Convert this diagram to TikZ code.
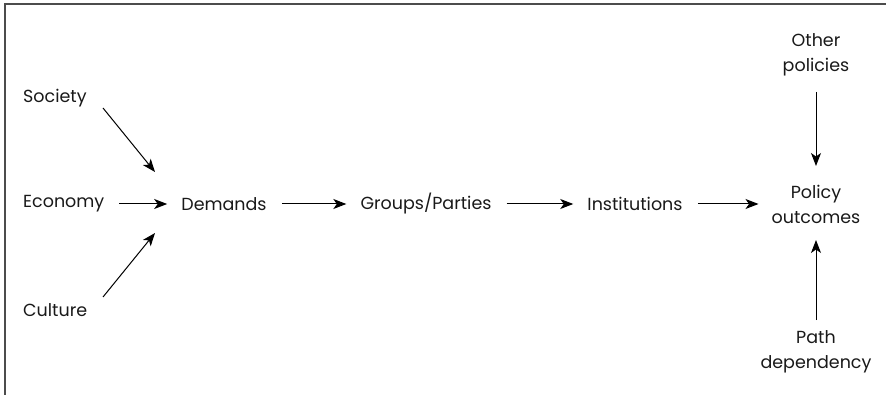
\documentclass[tikz,border=0pt]{standalone}
\usepackage{fontspec}
\setmainfont{Poppins}
\usetikzlibrary{arrows.meta,calc}
\begin{document}
\begin{tikzpicture}[x=1pt,y=-1pt,
  lbl/.style={inner sep=0pt,align=center,font=\fontsize{17.5}{25}\selectfont,text=black!90},
  conn/.style={line width=1pt,-{Stealth[length=13pt,width=10pt,inset=3.5pt]}},
  gap/.style={shorten <=15pt,shorten >=14pt}]
\useasboundingbox (0,0) rectangle (886,395);
% open frame: top and left edges only
\draw[line width=1.8pt,black!70] (886,4) -- (5,4) -- (5,395);
% sources
\node[lbl,anchor=west] (soc) at (23,98) {Society};
\node[lbl,anchor=west] (eco) at (23,204) {Economy};
\node[lbl,anchor=west] (cul) at (23,310) {Culture};
% main chain
\node[lbl] (dem) at (224,204) {Demands};
\node[lbl] (grp) at (426,204) {Groups/Parties};
\node[lbl] (ins) at (635,204) {Institutions};
\node[lbl] (pol) at (816,204) {Policy\\outcomes};
\node[lbl] (oth) at (816,55) {Other\\policies};
\node[lbl] (pat) at (816,352) {Path\\dependency};
% end points of the slanted and vertical connectors
\coordinate (s1) at (103,108);
\coordinate (s2) at (155,172);
\coordinate (c1) at (103,297);
\coordinate (c2) at (155,233);
\coordinate (o1) at (816,92);
\coordinate (o2) at (816,166);
\coordinate (p1) at (816,320);
\coordinate (p2) at (816,240);
% connectors
\draw[conn,gap] (eco) -- (dem);
\draw[conn,gap] (dem) -- (grp);
\draw[conn,gap] (grp) -- (ins);
\draw[conn,shorten <=15pt,shorten >=13pt] (ins.east) -- (ins.east -| pol.west);
\draw[conn] (s1) -- (s2);
\draw[conn] (c1) -- (c2);
\draw[conn] (o1) -- (o2);
\draw[conn] (p1) -- (p2);
\end{tikzpicture}
\end{document}
